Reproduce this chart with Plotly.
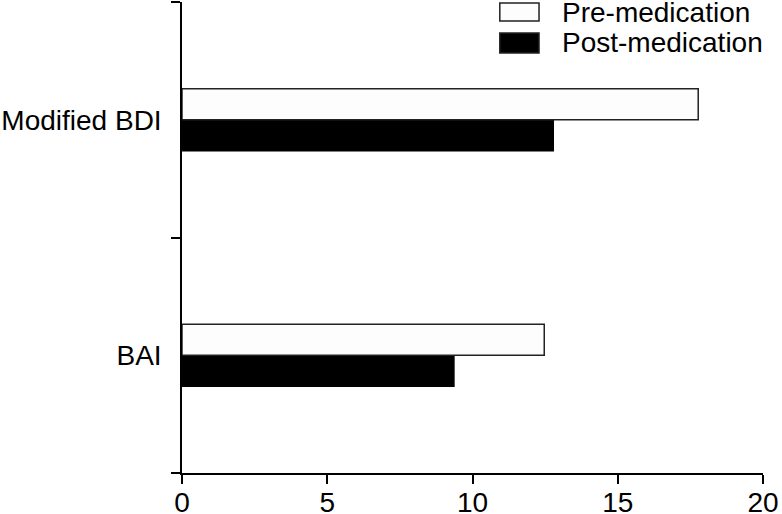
#!/usr/bin/env python3

import plotly.graph_objs as go

categories = ['BAI', 'Modified BDI']
pre_medication = [12.47, 17.77]
post_medication = [9.36, 12.78]
x_ticks = [0, 5, 10, 15, 20]
series_names = ['Pre-medication', 'Post-medication']

FONT = 'Liberation Sans, Arial, sans-serif'

fig = go.Figure()
# horizontal grouped bars: first trace sits lower in each group
fig.add_trace(go.Bar(
    y=categories, x=post_medication, orientation='h', name=series_names[1],
    marker=dict(color='black', line=dict(color='black', width=1.5)),
    showlegend=False
))
fig.add_trace(go.Bar(
    y=categories, x=pre_medication, orientation='h', name=series_names[0],
    marker=dict(color='#fdfdfd', line=dict(color='#222222', width=1.5)),
    showlegend=False
))

# legend drawn by hand so the swatches match the original size
swatches = [
    dict(fill='#fdfdfd', y0=0.9597, y1=0.9979, ty=0.9777),
    dict(fill='black', y0=0.8917, y1=0.9342, ty=0.913),
]
for name, sw in zip(series_names, swatches):
    fig.add_shape(type='rect', xref='paper', yref='paper',
                  x0=0.547, x1=0.6145, y0=sw['y0'], y1=sw['y1'],
                  fillcolor=sw['fill'], line=dict(color='#222222', width=1.5))
    fig.add_annotation(xref='paper', yref='paper', x=0.6506, y=sw['ty'],
                       text=name, showarrow=False, xanchor='left', yanchor='middle',
                       font=dict(family=FONT, size=28, color='black'))

fig.update_layout(
    barmode='group',
    bargap=0.736,
    bargroupgap=0,
    width=782,
    height=514,
    margin=dict(l=182, r=19, t=2, b=41),
    plot_bgcolor='white',
    paper_bgcolor='white',
    font=dict(family=FONT, size=28, color='black'),
)
fig.update_xaxes(
    range=[0, 20], tickvals=x_ticks, ticks='outside', ticklen=9, tickwidth=1.5,
    tickcolor='black', showline=True, linecolor='black', linewidth=1.5,
    showgrid=False, zeroline=False, automargin=False, ticklabelstandoff=-5
)
fig.update_yaxes(
    type='category', categoryorder='array', categoryarray=categories,
    range=[-0.5, 1.5], tickson='boundaries', ticks='outside', ticklen=9,
    tickwidth=1.5, tickcolor='black', showline=True, linecolor='black',
    linewidth=1.5, showgrid=False, zeroline=False, automargin=False,
    ticklabelstandoff=13
)

# drop the page's default body margin so the figure starts at the corner
fig.write_html('out.html', config={'displayModeBar': False},
               post_script="document.body.style.margin='0';")
